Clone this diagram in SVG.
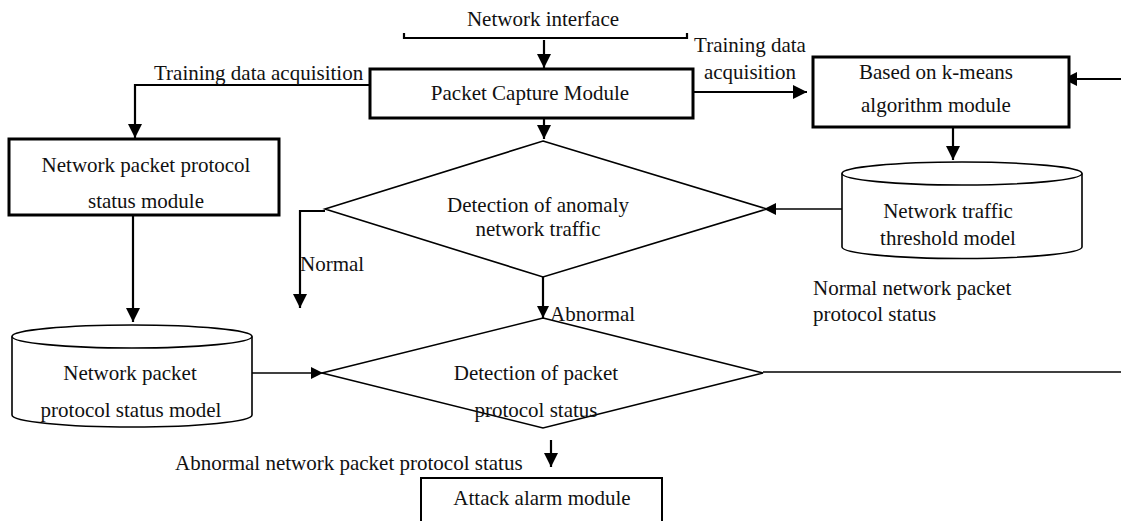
<svg xmlns="http://www.w3.org/2000/svg" width="1121" height="521" viewBox="0 0 1121 521">
<defs>
<style>
text{font-family:"Liberation Serif","Times New Roman",serif;font-size:21px;fill:#111}
.c{text-anchor:middle}
.box{fill:#fff;stroke:#000;stroke-width:3}
.thin{fill:#fff;stroke:#000;stroke-width:1.6}
.ln{fill:none;stroke:#000;stroke-width:2.2}
.tl{fill:none;stroke:#000;stroke-width:1.6}
</style>
<marker id="ah" markerUnits="userSpaceOnUse" markerWidth="16" markerHeight="16" refX="14" refY="7" orient="auto"><path d="M0,0 L14,7 L0,14 z" fill="#000"/></marker>
<marker id="as" markerUnits="userSpaceOnUse" markerWidth="14" markerHeight="14" refX="12" refY="6" orient="auto"><path d="M0,0 L12,6 L0,12 z" fill="#000"/></marker>
</defs>
<rect width="1121" height="521" fill="#fff"/>

<g id="connectors">
<path class="ln" d="M404,33 V38 H687 V33"/>
<path class="ln" d="M544,40 V68" marker-end="url(#ah)"/>
<path class="ln" d="M370,85 H135 V138" marker-end="url(#ah)"/>
<path class="ln" d="M693,92 H807" marker-end="url(#ah)"/>
<path class="ln" d="M1121,79 H1063" marker-end="url(#ah)"/>
<path class="ln" d="M544,118 V139" marker-end="url(#ah)"/>
<path class="ln" d="M953,120 V160" marker-end="url(#ah)"/>
<path class="ln" d="M133,188 V322" marker-end="url(#ah)"/>
<path class="tl" d="M842,209 H764" marker-end="url(#as)"/>
<path class="ln" d="M325,211 H300 V308" marker-end="url(#ah)"/>
<path class="ln" d="M543,277 V318" marker-end="url(#as)"/>
<path class="tl" d="M252,373 H323" marker-end="url(#as)"/>
<path class="tl" d="M763,372 H1121"/>
<path class="ln" d="M551,440 V467" marker-end="url(#ah)"/>
</g>

<g id="network-interface">
<text class="c" x="543" y="26">Network interface</text>
</g>

<g id="packet-capture">
<rect class="box" x="370" y="69" width="323" height="49"/>
<text class="c" x="530" y="100">Packet Capture Module</text>
</g>

<g id="label-training-left">
<text x="154" y="80">Training data acquisition</text>
</g>

<g id="label-training-right">
<text class="c" x="750" y="52">Training data</text>
<text class="c" x="750" y="79">acquisition</text>
</g>

<g id="kmeans">
<rect class="box" x="813" y="57" width="256" height="70"/>
<text class="c" x="936" y="79">Based on k-means</text>
<text class="c" x="936" y="112">algorithm module</text>
</g>

<g id="protocol-status-module">
<rect class="box" x="9" y="139" width="270" height="76"/>
<text class="c" x="146" y="172">Network packet protocol</text>
<text class="c" x="146" y="208">status module</text>
</g>

<g id="threshold-model">
<path class="thin" d="M842,173.5 V247 A120,11.5 0 0 0 1082,247 V173.5 A120,11.5 0 0 0 842,173.5 Z"/>
<path class="tl" d="M842,173.5 A120,11.5 0 0 0 1082,173.5"/>
<text class="c" x="948" y="218">Network traffic</text>
<text class="c" x="948" y="245">threshold model</text>
</g>

<g id="anomaly-detection">
<path class="thin" d="M543,141 L767,209 L543,277 L325,209 Z"/>
<text class="c" x="538" y="212">Detection of anomaly</text>
<text class="c" x="538" y="236">network traffic</text>
</g>

<g id="label-normal">
<text x="300" y="271">Normal</text>
</g>

<g id="label-abnormal">
<text x="550" y="321">Abnormal</text>
</g>

<g id="label-normal-status">
<text x="813" y="295">Normal network packet</text>
<text x="813" y="321">protocol status</text>
</g>

<g id="protocol-status-model">
<path class="thin" d="M12,336.5 V415 A120,12 0 0 0 252,415 V336.5 A120,11.5 0 0 0 12,336.5 Z"/>
<path class="tl" d="M12,336.5 A120,11.5 0 0 0 252,336.5"/>
<text class="c" x="130" y="380">Network packet</text>
<text class="c" x="131" y="417">protocol status model</text>
</g>

<g id="protocol-detection">
<path class="thin" d="M543,318 L763,373 L543,428 L322,373 Z"/>
<text class="c" x="536" y="380">Detection of packet</text>
<text class="c" x="536" y="417">protocol status</text>
</g>

<g id="label-abnormal-status">
<text x="175" y="470">Abnormal network packet protocol status</text>
</g>

<g id="attack-alarm">
<rect x="421" y="478" width="241" height="60" fill="#fff" stroke="#000" stroke-width="2"/>
<text class="c" x="542" y="505">Attack alarm module</text>
</g>
</svg>
